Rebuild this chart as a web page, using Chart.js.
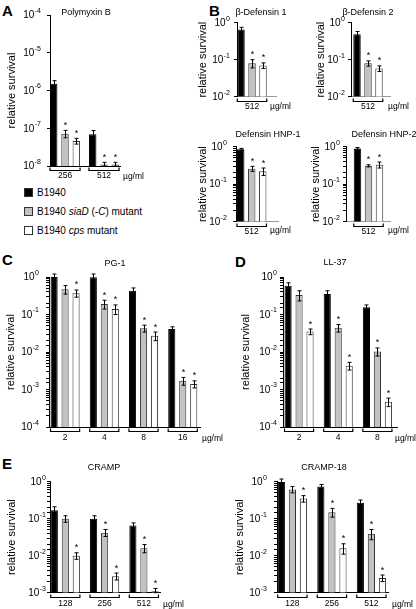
<!DOCTYPE html>
<html>
<head>
<meta charset="utf-8">
<script src="https://cdn.jsdelivr.net/npm/chart.js@4.4.1/dist/chart.umd.min.js"></script>
<style>
  body { margin: 0; background: #fff; width: 416px; height: 609px; position: relative; overflow: hidden;
         font-family: 'Liberation Sans', Arial, Helvetica, sans-serif; color: #000; }
  canvas { position: absolute; }
  .letter { position: absolute; font-size: 15px; font-weight: bold; line-height: 15px; }
  .leg { position: absolute; left: 24px; font-size: 10px; line-height: 12px; white-space: nowrap; }
  .sw { display: inline-block; width: 7px; height: 7px; border: 1px solid #333; margin-right: 4px; vertical-align: -1px; }
</style>
</head>
<body>
<div class="letter" style="left:2px;top:3px">A</div>
<div class="letter" style="left:209px;top:3px">B</div>
<div class="letter" style="left:2px;top:252px">C</div>
<div class="letter" style="left:235px;top:254px">D</div>
<div class="letter" style="left:2px;top:456px">E</div>

<div class="leg" style="top:187px"><span class="sw" style="background:#000"></span>B1940</div>
<div class="leg" style="top:206px"><span class="sw" style="background:#c2c2c2"></span>B1940 <i>siaD</i> (<i>-C</i>) mutant</div>
<div class="leg" style="top:225px"><span class="sw" style="background:#fff"></span>B1940 <i>cps</i> mutant</div>

<script>
// strains (legend order)
const strains = ['B1940', 'B1940 siaD (-C) mutant', 'B1940 cps mutant'];

// A - Polymyxin B
const polyDoses = ['256', '512'];
const polySurvival = [[1.5e-6, 6.9e-8], [7.2e-8, 1.1e-8], [4.6e-8, 1.1e-8]];
const polySem = [[3.2e-7, 1.8e-8], [1.6e-8, 1.5e-9], [0.8e-8, 1.5e-9]];
const polyStars = [[0, 0], [1, 1], [1, 1]];

// B - beta defensin 1 / 2, HNP-1 / HNP-2
const bdef1Doses = ['512'];
const bdef1Survival = [[0.65], [0.08], [0.07]];
const bdef1Sem = [[0.1], [0.02], [0.012]];
const bdef1Stars = [[0], [1], [1]];

const bdef2Doses = ['512'];
const bdef2Survival = [[0.49], [0.08], [0.058]];
const bdef2Sem = [[0.09], [0.013], [0.01]];
const bdef2Stars = [[0], [1], [1]];

const hnp1Doses = ['512'];
const hnp1Survival = [[0.85], [0.26], [0.22]];
const hnp1Sem = [[0.05], [0.04], [0.05]];
const hnp1Stars = [[0], [1], [1]];

const hnp2Doses = ['512'];
const hnp2Survival = [[0.9], [0.31], [0.33]];
const hnp2Sem = [[0.05], [0.02], [0.06]];
const hnp2Stars = [[0], [1], [1]];

// C - PG-1
const pg1Doses = ['2', '4', '8', '16'];
const pg1Survival = [[1.0, 0.98, 0.43, 0.041], [0.47, 0.19, 0.043, 0.0017], [0.37, 0.14, 0.027, 0.0014]];
const pg1Sem = [[0.2, 0.22, 0.08, 0.006], [0.12, 0.05, 0.009, 0.0004], [0.08, 0.04, 0.007, 0.0003]];
const pg1Stars = [[0, 0, 0, 0], [0, 1, 1, 1], [1, 1, 1, 1]];

// D - LL-37
const ll37Doses = ['2', '4', '8'];
const ll37Survival = [[0.58, 0.35, 0.155], [0.33, 0.044, 0.0103], [0.035, 0.0043, 0.00047]];
const ll37Sem = [[0.12, 0.08, 0.025], [0.1, 0.01, 0.0025], [0.006, 0.001, 0.00012]];
const ll37Stars = [[0, 0, 0], [0, 1, 1], [1, 1, 1]];

// E - CRAMP / CRAMP-18
const crampDoses = ['128', '256', '512'];
const crampSurvival = [[0.17, 0.10, 0.065], [0.10, 0.042, 0.016], [0.01, 0.0028, 0.0011]];
const crampSem = [[0.04, 0.02, 0.012], [0.02, 0.009, 0.004], [0.002, 0.0006, 0.0002]];
const crampStars = [[0, 0, 0], [0, 1, 1], [1, 1, 1]];

const cramp18Doses = ['128', '256', '512'];
const cramp18Survival = [[0.98, 0.74, 0.27], [0.62, 0.15, 0.039], [0.35, 0.016, 0.0025]];
const cramp18Sem = [[0.2, 0.1, 0.05], [0.12, 0.04, 0.012], [0.07, 0.005, 0.0005]];
const cramp18Stars = [[0, 0, 0], [0, 1, 1], [1, 1, 1]];

Chart.defaults.font.family = "'Liberation Sans', Arial, Helvetica, sans-serif";
Chart.defaults.color = '#000';

const fills = ['#000000', '#c2c2c2', '#ffffff'];
const edges = ['#000000', '#333333', '#333333'];

// layout of each panel (page pixels)
const panels = [
  { name: 'Polymyxin B', doses: polyDoses, values: polySurvival, sem: polySem, stars: polyStars,
    min: 1e-8, max: 1e-4, axisX: 50, right: 120, top: 15, bottom: 166, yTitleX: 12,
    title: [86, 13], um: [123, 177], xmin: -0.385, xmax: 1.41, cp: 0.87, bp: 0.66, gap: 9, minor: false, base: '#000' },
  { name: 'β-Defensin 1', doses: bdef1Doses, values: bdef1Survival, sem: bdef1Sem, stars: bdef1Stars,
    min: 1e-2, max: 1, axisX: 237, right: 276, top: 22.7, bottom: 96.7, yTitleX: 203,
    title: [261, 13], um: [270, 107], xmin: -0.385, xmax: 0.615, cp: 0.846, bp: 0.68, gap: 7, minor: false, base: '#999' },
  { name: 'β-Defensin 2', doses: bdef2Doses, values: bdef2Survival, sem: bdef2Sem, stars: bdef2Stars,
    min: 1e-2, max: 1, axisX: 351, right: 390, top: 22.7, bottom: 96.7, yTitleX: 321,
    title: [368, 13], um: [388, 107], xmin: -0.436, xmax: 0.564, cp: 0.846, bp: 0.68, gap: 6, minor: false, base: '#999' },
  { name: 'Defensin HNP-1', doses: hnp1Doses, values: hnp1Survival, sem: hnp1Sem, stars: hnp1Stars,
    min: 1e-2, max: 1, axisX: 236, right: 278, top: 146.7, bottom: 221.7, yTitleX: 203,
    title: [268, 135], um: [270, 231], xmin: -0.374, xmax: 0.626, cp: 0.786, bp: 0.68, gap: 9, minor: true, base: '#999' },
  { name: 'Defensin HNP-2', doses: hnp2Doses, values: hnp2Survival, sem: hnp2Sem, stars: hnp2Stars,
    min: 1e-2, max: 1, axisX: 346, right: 390, top: 146.7, bottom: 221.7, yTitleX: 316,
    title: [384, 135], um: [388, 231], xmin: -0.511, xmax: 0.489, cp: 0.75, bp: 0.68, gap: 6, minor: true, base: '#999' },
  { name: 'PG-1', doses: pg1Doses, values: pg1Survival, sem: pg1Sem, stars: pg1Stars,
    min: 1e-4, max: 1, axisX: 49, right: 200, top: 277, bottom: 427, yTitleX: 10.5,
    title: [115, 264], um: [202, 439], xmin: -0.41, xmax: 3.44, cp: 0.84, bp: 0.65, gap: 10, minor: true, base: '#000' },
  { name: 'LL-37', doses: ll37Doses, values: ll37Survival, sem: ll37Sem, stars: ll37Stars,
    min: 1e-4, max: 1, axisX: 283, right: 397, top: 277, bottom: 427, yTitleX: 246,
    title: [335, 263], um: [395, 439], xmin: -0.41, xmax: 2.5, cp: 0.84, bp: 0.65, gap: 6, minor: true, base: '#000' },
  { name: 'CRAMP', doses: crampDoses, values: crampSurvival, sem: crampSem, stars: crampStars,
    min: 1e-3, max: 1, axisX: 50, right: 160, top: 481.7, bottom: 592.7, yTitleX: 12,
    title: [104, 468], um: [163, 605], xmin: -0.39, xmax: 2.41, cp: 0.84, bp: 0.65, gap: 4, minor: true, base: '#000' },
  { name: 'CRAMP-18', doses: cramp18Doses, values: cramp18Survival, sem: cramp18Sem, stars: cramp18Stars,
    min: 1e-3, max: 1, axisX: 277, right: 388, top: 481.7, bottom: 592.7, yTitleX: 240,
    title: [324, 468], um: [392, 605], xmin: -0.39, xmax: 2.42, cp: 0.84, bp: 0.65, gap: 10, minor: true, base: '#000' }
];

const isDecade = v => Math.abs(Math.log10(v) - Math.round(Math.log10(v))) < 1e-6;

// error bars, asterisks, brackets, labels
function decor(p, cx, cy) {
  return {
    id: 'decor',
    afterDatasetsDraw(chart) {
      const ctx = chart.ctx, y = chart.scales.y;
      ctx.save();
      ctx.strokeStyle = '#000';
      ctx.fillStyle = '#000';
      ctx.lineWidth = 1;
      p.values.forEach((row, d) => {
        const meta = chart.getDatasetMeta(d);
        row.forEach((v, i) => {
          const bar = meta.data[i];
          const x = Math.round(bar.x) + 0.5;
          const e = p.sem[d][i];
          const top = y.getPixelForValue(v + e);
          const bot = y.getPixelForValue(Math.max(v - e, p.min));
          ctx.beginPath();
          ctx.moveTo(x, top); ctx.lineTo(x, bot);
          ctx.moveTo(x - 2, top); ctx.lineTo(x + 2, top);
          ctx.moveTo(x - 2, bot); ctx.lineTo(x + 2, bot);
          ctx.stroke();
          if (p.stars[d][i]) {
            ctx.font = "9px 'Liberation Sans', Arial, sans-serif";
            ctx.textAlign = 'center';
            ctx.textBaseline = 'middle';
            ctx.fillText('*', x, top - 5);
          }
        });
      });
      ctx.restore();
    },
    afterDraw(chart) {
      const ctx = chart.ctx, y = chart.scales.y, area = chart.chartArea;
      ctx.save();
      ctx.fillStyle = '#000';
      ctx.strokeStyle = '#000';
      // decade labels 10^n
      const lo = Math.round(Math.log10(p.min)), hi = Math.round(Math.log10(p.max));
      for (let k = lo; k <= hi; k++) {
        const yy = y.getPixelForValue(Math.pow(10, k));
        const right = area.left - p.gap;
        ctx.font = "7px 'Liberation Sans', Arial, sans-serif";
        const ew = ctx.measureText(String(k)).width;
        ctx.textAlign = 'left';
        ctx.textBaseline = 'middle';
        ctx.fillText(String(k), right - ew, yy - 4);
        ctx.font = "10px 'Liberation Sans', Arial, sans-serif";
        const bw = ctx.measureText('10').width;
        ctx.fillText('10', right - ew - bw - 0.5, yy + 0.5);
      }
      // brackets under each dose group
      const first = chart.getDatasetMeta(0), last = chart.getDatasetMeta(p.values.length - 1);
      const by = Math.round(area.bottom) + 4.5;
      ctx.lineWidth = 1.2;
      p.doses.forEach((dose, i) => {
        const l = first.data[i].x - first.data[i].width / 2;
        const r = last.data[i].x + last.data[i].width / 2;
        ctx.beginPath();
        ctx.moveTo(l, by - 3); ctx.lineTo(l, by); ctx.lineTo(r, by); ctx.lineTo(r, by - 3);
        ctx.stroke();
      });
      // unit and title
      ctx.font = "8.5px 'Liberation Sans', Arial, sans-serif";
      ctx.textAlign = 'left';
      ctx.textBaseline = 'middle';
      ctx.fillText('µg/ml', p.um[0] - cx, p.um[1] - cy);
      ctx.font = "9px 'Liberation Sans', Arial, sans-serif";
      ctx.textAlign = 'center';
      ctx.fillText(p.name, p.title[0] - cx, p.title[1] - cy);
      ctx.restore();
    }
  };
}

function makePanel(p) {
  const cx = Math.round(p.yTitleX - 10.6);
  const cy = Math.round(Math.min(p.top, p.title[1]) - 12);
  const cw = Math.round(Math.max(p.um[0] + 28, p.title[0] + 40) - cx);
  const ch = Math.round(p.um[1] + 9 - cy);
  const xH = 18;
  const cv = document.createElement('canvas');
  cv.width = cw; cv.height = ch;
  cv.style.left = cx + 'px'; cv.style.top = cy + 'px';
  cv.style.width = cw + 'px'; cv.style.height = ch + 'px';
  document.body.appendChild(cv);

  new Chart(cv, {
    type: 'bar',
    data: {
      datasets: p.values.map((row, d) => ({
        label: strains[d],
        data: row.map((v, i) => ({ x: i, y: v })),
        backgroundColor: fills[d],
        borderColor: edges[d],
        borderWidth: 1,
        categoryPercentage: p.cp,
        barPercentage: p.bp
      }))
    },
    options: {
      responsive: false,
      animation: false,
      events: [],
      layout: { padding: { left: 0, top: p.top - cy, right: cx + cw - p.right, bottom: cy + ch - xH - p.bottom } },
      plugins: { legend: { display: false }, tooltip: { enabled: false } },
      scales: {
        x: {
          type: 'linear',
          offset: false,
          min: p.xmin,
          max: p.xmax,
          afterBuildTicks: s => { s.ticks = p.doses.map((d, i) => ({ value: i })); },
          afterFit: s => { s.height = xH; },
          ticks: { callback: (v, i) => p.doses[i], font: { size: 8.5 }, padding: p.bottom < 230 ? 4.5 : 6, maxRotation: 0, autoSkip: false },
          grid: { display: true, offset: false, drawOnChartArea: false, drawTicks: false },
          border: { display: true, color: p.base, width: 1 }
        },
        y: {
          type: 'logarithmic',
          min: p.min,
          max: p.max,
          afterFit: s => { s.width = p.axisX - cx; },
          ticks: { display: false },
          grid: {
            display: true, drawOnChartArea: false, drawTicks: true, tickLength: 3,
            tickColor: c => (isDecade(c.tick.value) || p.minor) ? '#000' : 'rgba(0,0,0,0)'
          },
          border: { display: true, color: '#000', width: 1 },
          title: { display: true, text: 'relative survival', font: { size: 11 }, padding: { top: 4, bottom: 4 } }
        }
      }
    },
    plugins: [decor(p, cx, cy)]
  });
}

panels.forEach(makePanel);
</script>
</body>
</html>
